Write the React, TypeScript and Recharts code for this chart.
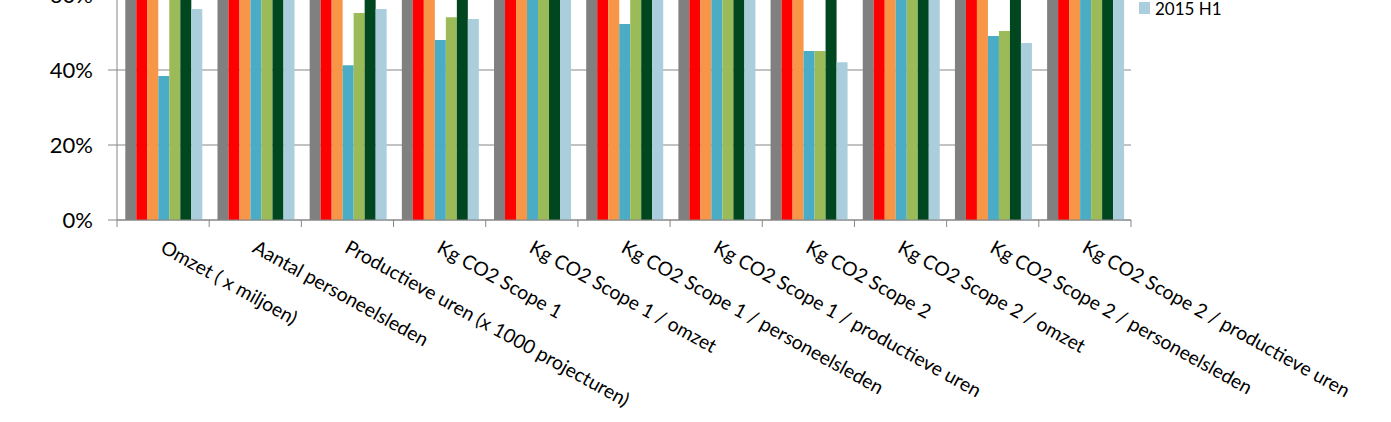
import React from 'react'
import { BarChart, Bar, XAxis, YAxis, CartesianGrid, Legend } from 'recharts'

// categories on the x axis
const categories = [
  'Omzet ( x miljoen)',
  'Aantal personeelsleden',
  'Productieve uren (x 1000 projecturen)',
  'Kg CO2 Scope 1',
  'Kg CO2 Scope 1 / omzet',
  'Kg CO2 Scope 1 / personeelsleden',
  'Kg CO2 Scope 1 / productieve uren',
  'Kg CO2 Scope 2',
  'Kg CO2 Scope 2 / omzet',
  'Kg CO2 Scope 2 / personeelsleden',
  'Kg CO2 Scope 2 / productieve uren',
]

const seriesNames = ['2010', '2011', '2012', '2013', '2014', '2014 H1', '2015 H1']
const seriesColors = ['#808080', '#FF0000', '#F79646', '#4BACC6', '#9BBB59', '#00471F', '#AACEDC']

// values as fraction of the base year (top of the chart is cropped in the picture)
const v2010 = [1, 1, 1, 1, 1, 1, 1, 1, 1, 1, 1]
const v2011 = [1.05, 1.0, 1.02, 0.95, 0.905, 0.95, 0.931, 1.1, 1.048, 1.1, 1.078]
const v2012 = [0.98, 0.95, 0.96, 0.82, 0.837, 0.863, 0.854, 0.75, 0.765, 0.789, 0.781]
const v2013 = [0.384, 0.918, 0.413, 0.48, 1.25, 0.523, 1.162, 0.451, 1.174, 0.491, 1.092]
const v2014 = [0.7, 0.895, 0.552, 0.541, 0.773, 0.604, 0.98, 0.451, 0.644, 0.504, 0.817]
const v2014H1 = [0.75, 0.9, 0.78, 0.68, 0.907, 0.756, 0.872, 0.62, 0.827, 0.689, 0.795]
const v2015H1 = [0.563, 0.892, 0.563, 0.536, 0.952, 0.601, 0.952, 0.421, 0.748, 0.472, 0.748]

const yTicks = [0, 0.2, 0.4, 0.6, 0.8, 1.0, 1.2, 1.4]

const seriesValues = [v2010, v2011, v2012, v2013, v2014, v2014H1, v2015H1]
const data = categories.map((name, i) => {
  const row: Record<string, string | number> = { name }
  seriesNames.forEach((s, j) => { row[s] = seriesValues[j][i] })
  return row
})

const GRID = '#868686'
const FONT = 'Lato, "Open Sans", sans-serif'

const CategoryTick = (props: any) => {
  const { x, y, payload, index, visibleTicksCount } = props
  const half = payload.offset || 46
  const left = x - half
  const isLast = index === (visibleTicksCount ?? categories.length) - 1
  return (
    <g>
      <line x1={left} x2={left} y1={y} y2={y + 7} stroke={GRID} strokeWidth={1} />
      {isLast && <line x1={x + half} x2={x + half} y1={y} y2={y + 7} stroke={GRID} strokeWidth={1} />}
      <g transform={`translate(${x + 3},${y + 19}) rotate(29)`}>
        <text x={0} y={0} dy="0.74em" textAnchor="start" fontSize={19.3} fontFamily={FONT} fill="#000">
          {payload.value}
        </text>
      </g>
    </g>
  )
}

const LegendList = () => (
  <div style={{ fontFamily: FONT, fontSize: 17, color: '#000' }}>
    {seriesNames.map((s, i) => (
      <div key={s} style={{ display: 'flex', alignItems: 'center', height: 24 }}>
        <span style={{ display: 'inline-block', width: 11, height: 12, background: seriesColors[i], marginRight: 5 }} />
        <span>{s}</span>
      </div>
    ))}
  </div>
)

const App = () => (
  <div style={{ position: 'absolute', left: 0, top: 0, width: 1391, height: 422, overflow: 'hidden', background: '#fff' }}>
    <div style={{ position: 'absolute', left: 0, top: -315 }}>
      <BarChart
        width={1391}
        height={737}
        data={data}
        margin={{ top: 10, right: 260, left: 0, bottom: 0 }}
        barCategoryGap="9%"
        barGap={0}
      >
        <CartesianGrid vertical={false} stroke={GRID} strokeDasharray="" />
        <XAxis
          dataKey="name"
          interval={0}
          height={202}
          tickSize={0}
          tickMargin={0}
          axisLine={{ stroke: GRID }}
          tickLine={false}
          tick={<CategoryTick />}
        />
        <YAxis
          width={117}
          domain={[0, 1.4]}
          ticks={yTicks}
          allowDataOverflow
          tickSize={9}
          tickMargin={15}
          axisLine={{ stroke: GRID }}
          tickLine={{ stroke: GRID }}
          tick={{ fontSize: 22, fill: '#000', fontFamily: FONT }}
          tickFormatter={(v: number) => `${Math.round(v * 100)}%`}
        />
        <Legend
          layout="horizontal"
          verticalAlign="middle"
          align="center"
          content={<LegendList />}
          wrapperStyle={{ left: 1139, top: 167, width: 120, height: 168 }}
        />
        {seriesNames.map((s, i) => (
          <Bar key={s} dataKey={s} fill={seriesColors[i]} isAnimationActive={false} />
        ))}
      </BarChart>
    </div>
  </div>
)

export default App
